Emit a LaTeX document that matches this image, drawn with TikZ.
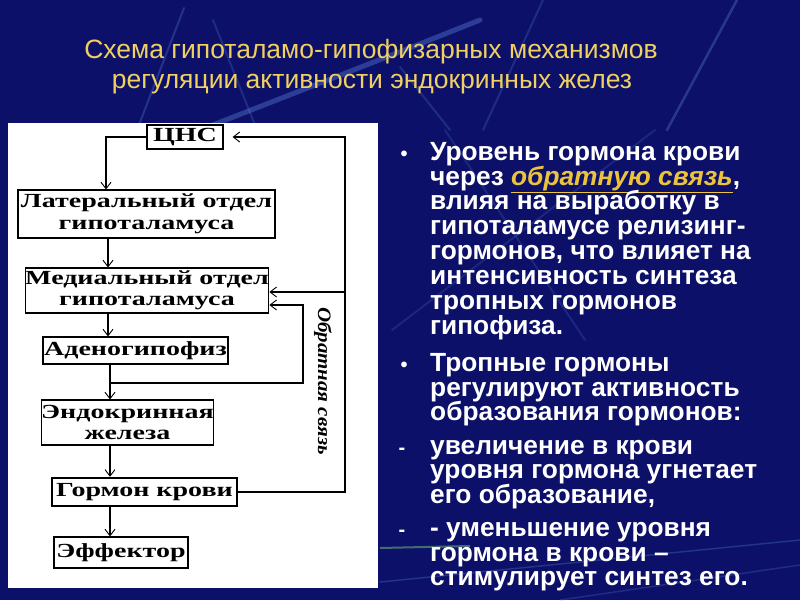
\documentclass[tikz,border=0pt]{standalone}
\usepackage{fontspec}
\setmainfont{Liberation Sans}
\newfontfamily\boxfont[FakeStretch=1.4]{Liberation Serif}
\newfontfamily\labfont[FakeStretch=1.1]{Liberation Serif}
\usetikzlibrary{arrows.meta}
\definecolor{bgblue}{RGB}{12,16,104}
\definecolor{titleyellow}{RGB}{240,208,96}
\definecolor{linkgold}{RGB}{236,196,60}
\definecolor{streak}{RGB}{90,130,220}
\definecolor{greenstreak}{RGB}{120,200,120}
\begin{document}
\begin{tikzpicture}[x=1pt,y=-1pt,
  box/.style={draw=black, line width=1.1pt, fill=white, inner sep=0pt, align=center,
    font=\boxfont\bfseries\fontsize{20}{21.5}\selectfont},
  conn/.style={line width=1.7pt, draw=black},
  arr/.style={conn, -{Straight Barb[length=6.5pt,width=10pt,line width=0.9pt]}},
  ttl/.style={text=titleyellow, font=\fontsize{26.5}{30}\selectfont, inner sep=0pt, anchor=base},
  rt/.style={text=white, font=\bfseries\fontsize{26.3}{25}\selectfont, inner sep=0pt, anchor=base west},
  bulletmark/.style={text=white, font=\bfseries\fontsize{20}{20}\selectfont, inner sep=0pt, anchor=base},
  bg streak/.style={draw=streak, line cap=round},
]
% background
\fill[bgblue] (0,0) rectangle (800,600);
\useasboundingbox (0,0) rectangle (800,600);
\draw[bg streak, line width=2pt, opacity=0.3] (137,130) -- (184,8);
\draw[bg streak, line width=2pt, opacity=0.25] (213,20) -- (257,130);
\draw[bg streak, line width=5pt, opacity=0.4] (200,130) -- (397,53) -- (480,20);
\draw[bg streak, line width=2pt, opacity=0.25] (543,0) -- (483,130);
\draw[bg streak, line width=2pt, opacity=0.25] (400,67) -- (450,130);
\draw[bg streak, line width=2.5pt, opacity=0.35] (737,0) -- (667,130);
\draw[bg streak, line width=2pt, opacity=0.2] (445,130) -- (585,340);
\draw[bg streak, line width=2pt, opacity=0.2] (655,130) -- (392,330);
\draw[draw=greenstreak, line width=2pt, opacity=0.5] (380,548) -- (470,546);
\draw[bg streak, line width=1.5pt, opacity=0.3] (380,582) -- (800,540);
\draw[bg streak, line width=1.5pt, opacity=0.25] (560,600) -- (800,565);

% title
\node[ttl] (t1) at (371,58) {Схема гипоталамо-гипофизарных механизмов};
\node[ttl] (t2) at (372,88) {регуляции активности эндокринных желез};

% white panel
\fill[white] (8,123) rectangle (378,588);

% boxes
\node[box, minimum width=76pt, minimum height=24pt] (cns) at (185,137) {ЦНС};
\node[box, minimum width=257pt, minimum height=48pt] (lat) at (146.5,214) {Латеральный отдел\\гипоталамуса};
\node[box, minimum width=242pt, minimum height=45pt] (med) at (147,290.5) {Медиальный отдел\\гипоталамуса};
\node[box, minimum width=185pt, minimum height=27pt] (aden) at (135.5,350.5) {Аденогипофиз};
\node[box, minimum width=171pt, minimum height=45pt] (endo) at (127.5,422.5) {Эндокринная\\железа};
\node[box, line width=2.4pt, minimum width=185pt, minimum height=28pt] (horm) at (144.5,492) {Гормон крови};
\node[box, minimum width=134pt, minimum height=31pt] (eff) at (121,552.5) {Эффектор};

% feedback label
\node[rotate=-90, inner sep=0pt, font=\labfont\bfseries\itshape\fontsize{19}{20}\selectfont] (fb) at (323,381) {Обратная связь};

% connectors
\coordinate (c1) at (106,137);
\coordinate (x1) at (108,0);
\coordinate (x2) at (110,0);
\coordinate (b1) at (110,383);
\coordinate (b2) at (303,383);
\coordinate (b3) at (303,305);
\coordinate (r1) at (345,492);
\coordinate (r2) at (345,137);
\coordinate (r3) at (345,292);
\draw[arr] (cns.west) -- (c1) -- (lat.north -| c1);
\draw[arr] (lat.south -| x1) -- (med.north -| x1);
\draw[arr] (med.south -| x1) -- (aden.north -| x1);
\draw[arr] (aden.south -| x2) -- (endo.north -| x2);
\draw[arr] (b1) -- (b2) -- (b3) -- (med.east |- b3);
\draw[arr] (endo.south -| x2) -- (horm.north -| x2);
\draw[arr] (horm.south -| x2) -- (eff.north -| x2);
\draw[arr, shorten >=9pt] (horm.east) -- (r1) -- (r2) -- (cns.east);
\draw[arr] (r3) -- (med.east |- r3);

% right text
\node[bulletmark] (m1) at (404,160) {•};
\node[rt] (l1) at (430,160) {Уровень гормона крови};
\node[rt] (l2) at (430,185) {через \textcolor{linkgold}{\underline{\textit{обратную связь}}},};
\node[rt] (l3) at (430,209) {влияя на выработку в};
\node[rt] (l4) at (430,234) {гипоталамусе релизинг-};
\node[rt] (l5) at (430,259) {гормонов, что влияет на};
\node[rt] (l6) at (430,284) {интенсивность синтеза};
\node[rt] (l7) at (430,309) {тропных гормонов};
\node[rt] (l8) at (430,334) {гипофиза.};
\node[bulletmark] (m2) at (404,371) {•};
\node[rt] (l9) at (430,371) {Тропные гормоны};
\node[rt] (l10) at (430,396) {регулируют активность};
\node[rt] (l11) at (430,420) {образования гормонов:};
\node[bulletmark] (m3) at (402,454) {-};
\node[rt] (l12) at (430,454) {увеличение в крови};
\node[rt] (l13) at (430,478) {уровня гормона угнетает};
\node[rt] (l14) at (430,503) {его образование,};
\node[bulletmark] (m4) at (402,536) {-};
\node[rt] (l15) at (430,536) {- уменьшение уровня};
\node[rt] (l16) at (430,561) {гормона в крови –};
\node[rt] (l17) at (430,585) {стимулирует синтез его.};
\end{tikzpicture}
\end{document}
